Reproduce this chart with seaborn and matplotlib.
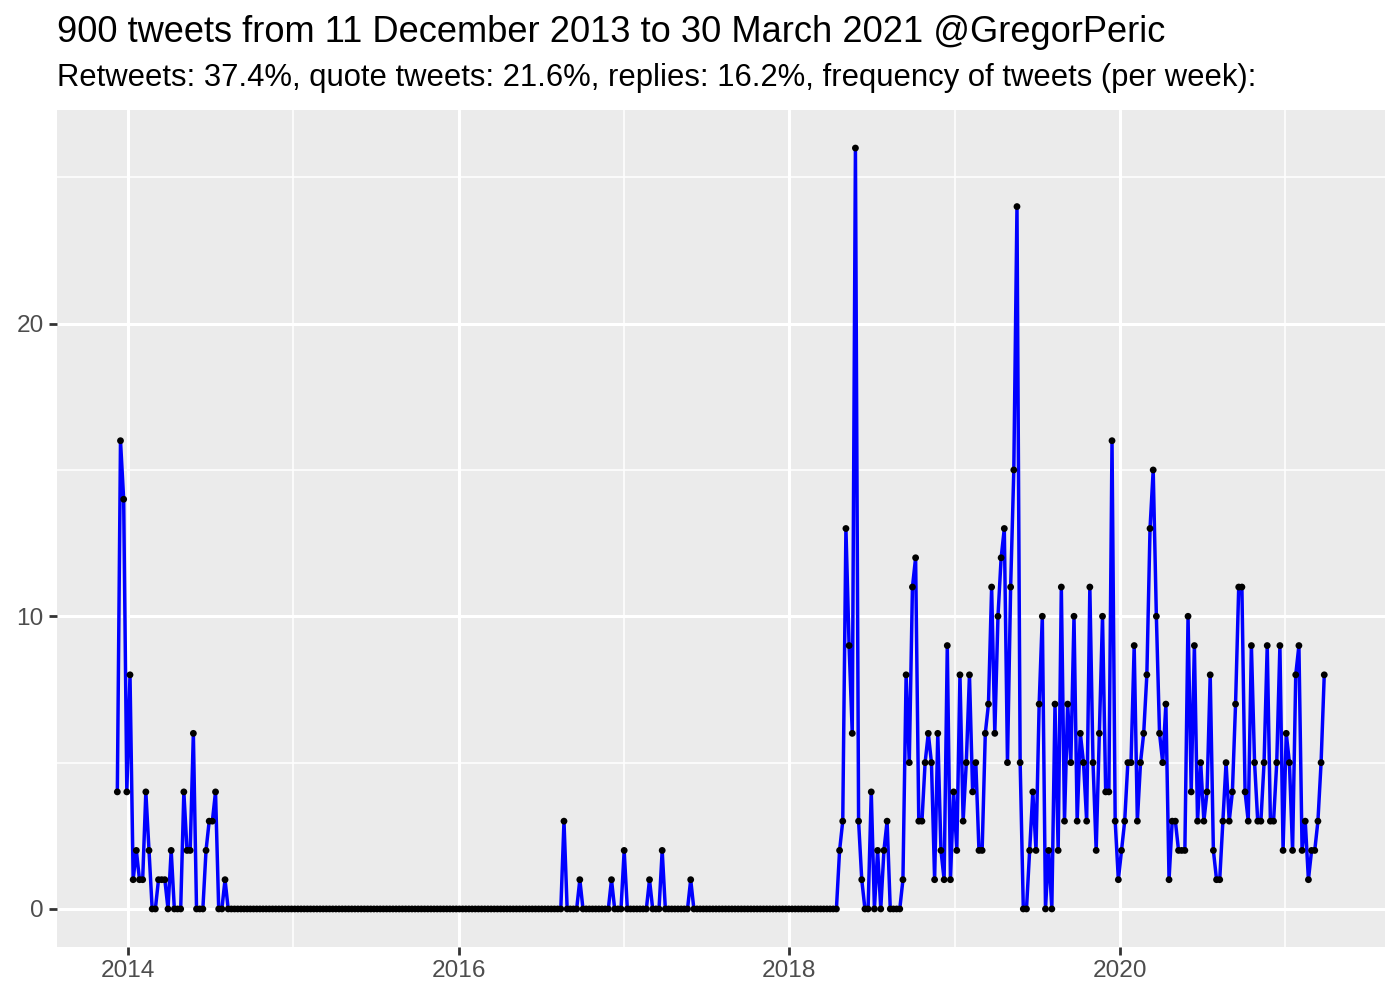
import seaborn as sns
import pandas as pd
import matplotlib.pyplot as plt
import matplotlib.dates as mdates
from matplotlib.ticker import MultipleLocator

# weekly tweet counts, weeks starting Sunday 2013-12-08
first_week = "2013-12-08"
tweets_per_week = [
    4, 16, 14, 4, 8, 1, 2, 1, 1, 4, 2, 0, 0, 1, 1, 1, 0, 2, 0, 0,
    0, 4, 2, 2, 6, 0, 0, 0, 2, 3, 3, 4, 0, 0, 1, 0, 0, 0, 0, 0,
    0, 0, 0, 0, 0, 0, 0, 0, 0, 0, 0, 0, 0, 0, 0, 0, 0, 0, 0, 0,
    0, 0, 0, 0, 0, 0, 0, 0, 0, 0, 0, 0, 0, 0, 0, 0, 0, 0, 0, 0,
    0, 0, 0, 0, 0, 0, 0, 0, 0, 0, 0, 0, 0, 0, 0, 0, 0, 0, 0, 0,
    0, 0, 0, 0, 0, 0, 0, 0, 0, 0, 0, 0, 0, 0, 0, 0, 0, 0, 0, 0,
    0, 0, 0, 0, 0, 0, 0, 0, 0, 0, 0, 0, 0, 0, 0, 0, 0, 0, 0, 0,
    0, 3, 0, 0, 0, 0, 1, 0, 0, 0, 0, 0, 0, 0, 0, 0, 1, 0, 0, 0,
    2, 0, 0, 0, 0, 0, 0, 0, 1, 0, 0, 0, 2, 0, 0, 0, 0, 0, 0, 0,
    0, 1, 0, 0, 0, 0, 0, 0, 0, 0, 0, 0, 0, 0, 0, 0, 0, 0, 0, 0,
    0, 0, 0, 0, 0, 0, 0, 0, 0, 0, 0, 0, 0, 0, 0, 0, 0, 0, 0, 0,
    0, 0, 0, 0, 0, 0, 0, 0, 2, 3, 13, 9, 6, 26, 3, 1, 0, 0, 4, 0,
    2, 0, 2, 3, 0, 0, 0, 0, 1, 8, 5, 11, 12, 3, 3, 5, 6, 5, 1, 6,
    2, 1, 9, 1, 4, 2, 8, 3, 5, 8, 4, 5, 2, 2, 6, 7, 11, 6, 10, 12,
    13, 5, 11, 15, 24, 5, 0, 0, 2, 4, 2, 7, 10, 0, 2, 0, 7, 2, 11, 3,
    7, 5, 10, 3, 6, 5, 3, 11, 5, 2, 6, 10, 4, 4, 16, 3, 1, 2, 3, 5,
    5, 9, 3, 5, 6, 8, 13, 15, 10, 6, 5, 7, 1, 3, 3, 2, 2, 2, 10, 4,
    9, 3, 5, 3, 4, 8, 2, 1, 1, 3, 5, 3, 4, 7, 11, 11, 4, 3, 9, 5,
    3, 3, 5, 9, 3, 3, 5, 9, 2, 6, 5, 2, 8, 9, 2, 3, 1, 2, 2, 3,
    5, 8,
]

title = "900 tweets from 11 December 2013 to 30 March 2021 @GregorPeric"
subtitle = ("Retweets: 37.4%, quote tweets: 21.6%, replies: 16.2%, "
            "frequency of tweets (per week):")

df = pd.DataFrame({
    "week": pd.date_range(first_week, periods=len(tweets_per_week), freq="7D"),
    "n": tweets_per_week,
})

sns.set_theme(style="darkgrid", rc={
    "axes.facecolor": "#EBEBEB",
    "grid.color": "white",
    "axes.edgecolor": "none",
})
plt.rcParams["font.family"] = ["Liberation Sans", "DejaVu Sans"]

fig = plt.figure(figsize=(14, 10), dpi=100)
ax = fig.add_axes([0.0407, 0.053, 0.9483, 0.837])

sns.lineplot(data=df, x="week", y="n", color="#0000FF", linewidth=2.5, ax=ax)
sns.scatterplot(data=df, x="week", y="n", color="black", s=24,
                edgecolor="none", ax=ax, zorder=3)

span = df["week"].max() - df["week"].min()
ax.set_xlim(df["week"].min() - span * 0.05, df["week"].max() + span * 0.05)
ax.set_ylim(-1.3, 27.3)

ax.xaxis.set_major_locator(mdates.YearLocator(2))
ax.xaxis.set_minor_locator(mdates.YearLocator(1))
ax.xaxis.set_major_formatter(mdates.DateFormatter("%Y"))
ax.yaxis.set_major_locator(MultipleLocator(10))
ax.yaxis.set_minor_locator(MultipleLocator(5))

ax.grid(which="major", color="white", linewidth=2.2)
ax.grid(which="minor", color="white", linewidth=1.1)
ax.tick_params(which="major", length=5.5, width=2, color="#333333",
               labelsize=17.6, labelcolor="#4D4D4D", pad=4,
               bottom=True, left=True)
ax.tick_params(which="minor", length=0)
ax.set_xlabel("")
ax.set_ylabel("")

fig.text(0.0407, 0.968, title, fontsize=26.1, color="black",
         ha="left", va="center")
fig.text(0.0407, 0.922, subtitle, fontsize=22.3, color="black",
         ha="left", va="center")

plt.savefig("out.png", dpi=100)
